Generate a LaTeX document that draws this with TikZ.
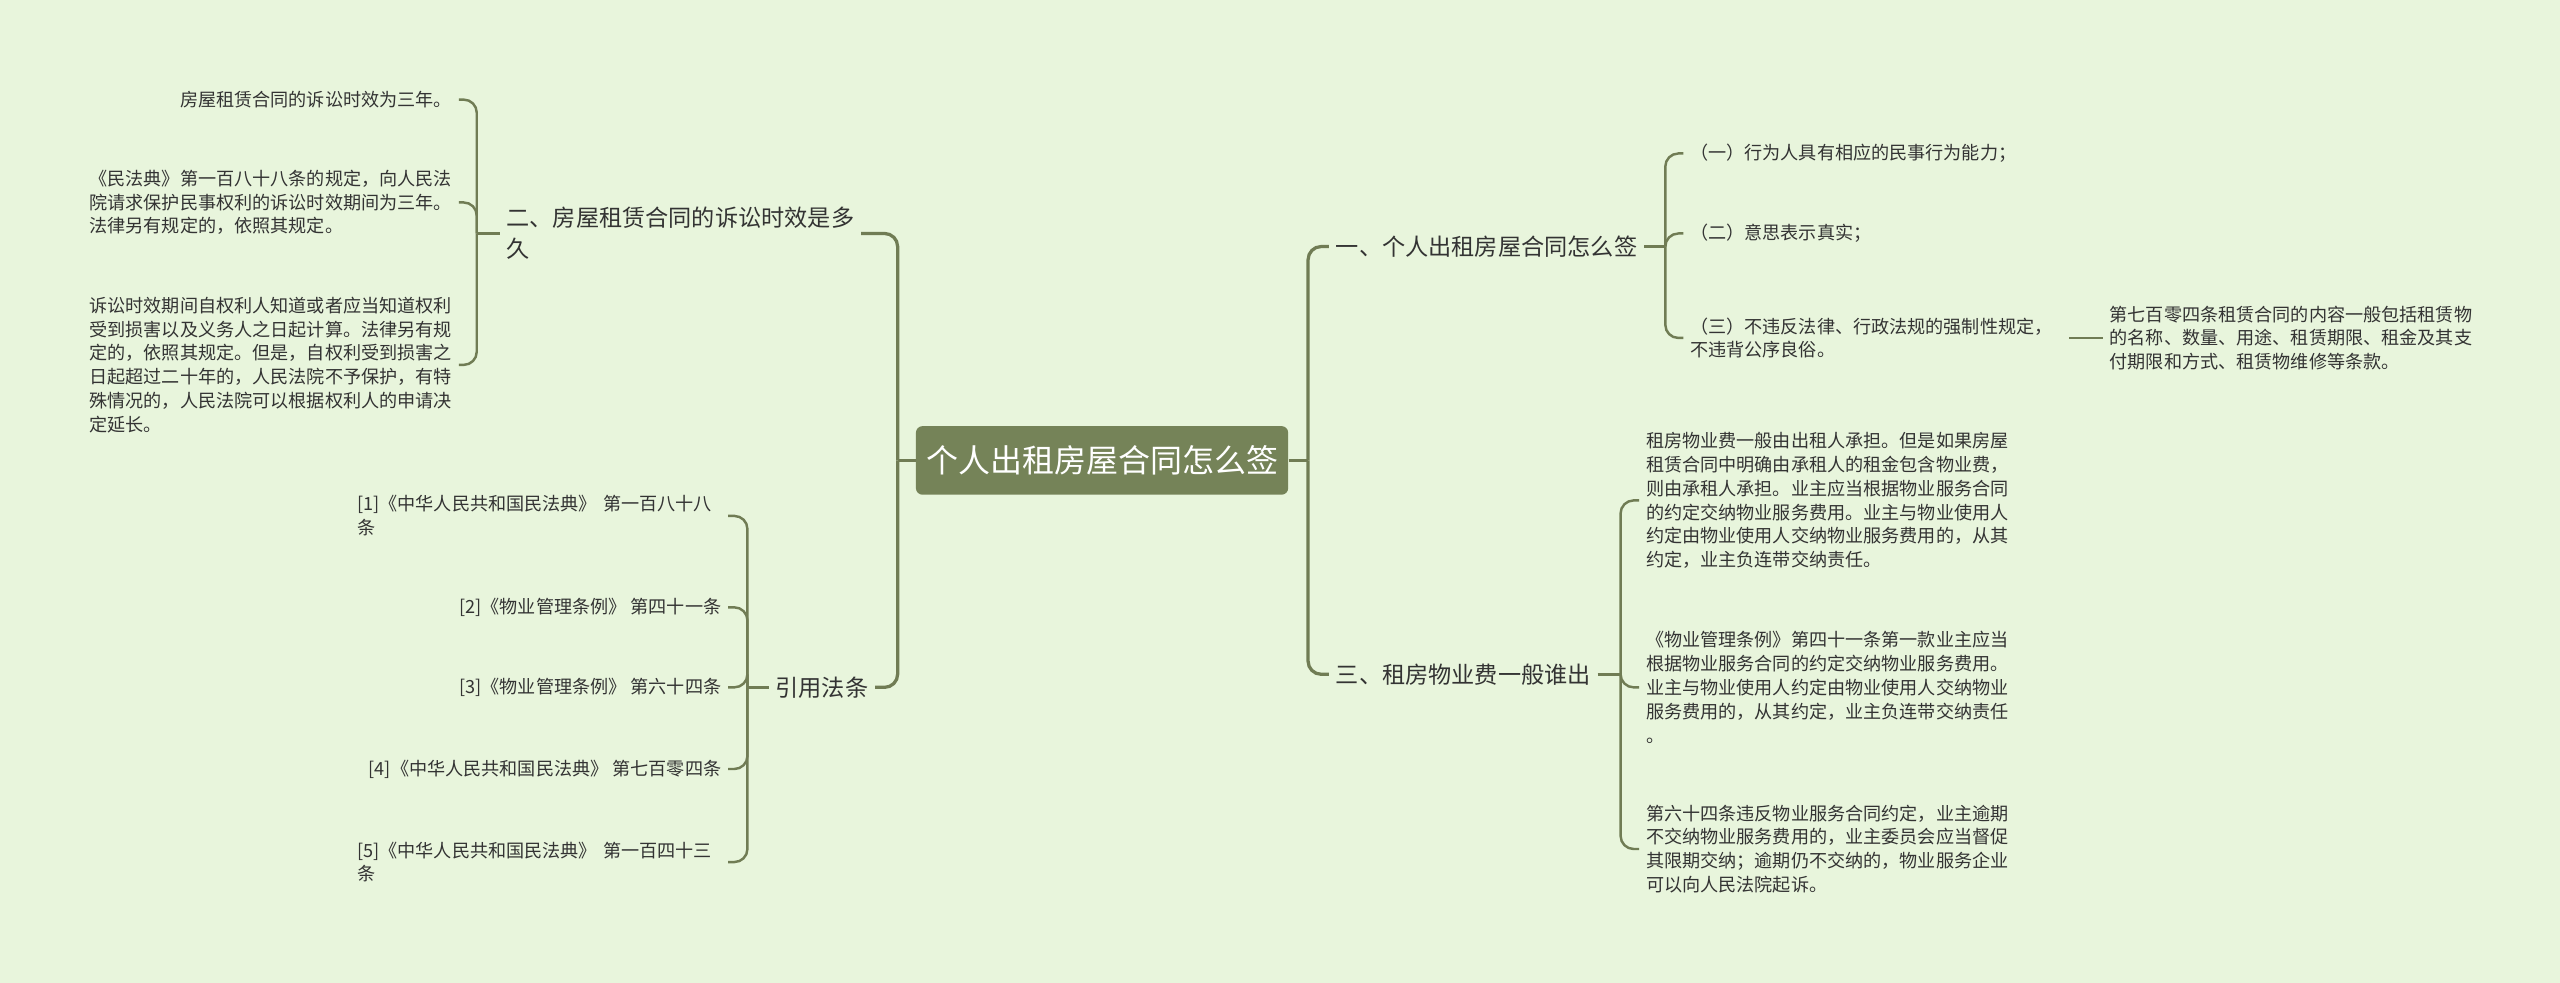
\documentclass[tikz,border=0pt]{standalone}
\usepackage{fontspec}
\setmainfont{Noto Sans CJK SC}
\definecolor{bgcol}{RGB}{232,245,220}
\definecolor{linecol}{RGB}{112,124,84}
\definecolor{rootcol}{RGB}{117,131,88}
\definecolor{txtcol}{RGB}{51,51,51}

\begin{document}
\begin{tikzpicture}[x=1pt, y=-1pt,
    every node/.style={inner xsep=4pt, inner ysep=2pt, text=txtcol, align=left},
    root/.style={fill=rootcol, text=white, rounded corners=4pt, inner xsep=0pt,
        text width=228pt, align=center, minimum height=42pt, font=\fontsize{19.6}{24}\selectfont},
    branch/.style={font=\fontsize{14.2}{19}\selectfont},
    leaf/.style={font=\fontsize{11.1}{14.6}\selectfont},
    link/.style={draw=linecol, line width=1.5pt, rounded corners=8pt},
    mainlink/.style={link, line width=2pt}]
    \useasboundingbox (0,0) rectangle (1568,602);
    \fill[bgcol] (0,0) rectangle (1568,602);
    % Nodes
    \node[root] (root) at (675,282) {个人出租房屋合同怎么签};
    \node[branch, anchor=west] (b1) at (814,151) {一、个人出租房屋合同怎么签};
    \node[branch, anchor=west] (b3) at (814,413) {三、租房物业费一般谁出};
    \node[branch, anchor=west] (b2) at (306,143) {二、房屋租赁合同的诉讼时效是多\\久};
    \node[branch, anchor=east] (b4) at (536,421) {引用法条};
    % right, first branch
    \node[leaf, anchor=west] (l11) at (1031,94)  {（一）行为人具有相应的民事行为能力；};
    \node[leaf, anchor=west] (l12) at (1031,143) {（二）意思表示真实；};
    \node[leaf, anchor=west] (l13) at (1031,207) {（三）不违反法律、行政法规的强制性规定，\\不违背公序良俗。};
    \node[leaf, anchor=west] (l14) at (1288,207) {第七百零四条租赁合同的内容一般包括租赁物\\的名称、数量、用途、租赁期限、租金及其支\\付期限和方式、租赁物维修等条款。};
    % right, third branch
    \node[leaf, anchor=west] (l31) at (1004,306.5) {租房物业费一般由出租人承担。但是如果房屋\\租赁合同中明确由承租人的租金包含物业费，\\则由承租人承担。业主应当根据物业服务合同\\的约定交纳物业服务费用。业主与物业使用人\\约定由物业使用人交纳物业服务费用的，从其\\约定，业主负连带交纳责任。};
    \node[leaf, anchor=west] (l32) at (1004,421) {《物业管理条例》第四十一条第一款业主应当\\根据物业服务合同的约定交纳物业服务费用。\\业主与物业使用人约定由物业使用人交纳物业\\服务费用的，从其约定，业主负连带交纳责任\\。};
    \node[leaf, anchor=west] (l33) at (1004,520) {第六十四条违反物业服务合同约定，业主逾期\\不交纳物业服务费用的，业主委员会应当督促\\其限期交纳；逾期仍不交纳的，物业服务企业\\可以向人民法院起诉。};
    % left, second branch
    \node[leaf, anchor=east] (l21) at (281,61) {房屋租赁合同的诉讼时效为三年。};
    \node[leaf, anchor=east] (l22) at (281,124) {《民法典》第一百八十八条的规定，向人民法\\院请求保护民事权利的诉讼时效期间为三年。\\法律另有规定的，依照其规定。};
    \node[leaf, anchor=east] (l23) at (281,223.5) {诉讼时效期间自权利人知道或者应当知道权利\\受到损害以及义务人之日起计算。法律另有规\\定的，依照其规定。但是，自权利受到损害之\\日起超过二十年的，人民法院不予保护，有特\\殊情况的，人民法院可以根据权利人的申请决\\定延长。};
    % left, cited articles
    \node[leaf, anchor=east, text width=223pt] (l41) at (446,316) {[1]《中华人民共和国民法典》 第一百八十八\\条};
    \node[leaf, anchor=east] (l42) at (446,372) {[2]《物业管理条例》 第四十一条};
    \node[leaf, anchor=east] (l43) at (446,421) {[3]《物业管理条例》 第六十四条};
    \node[leaf, anchor=east] (l44) at (446,471) {[4]《中华人民共和国民法典》 第七百零四条};
    \node[leaf, anchor=east, text width=223pt] (l45) at (446,528) {[5]《中华人民共和国民法典》 第一百四十三\\条};
    % Edges
    \draw[mainlink] (root.east) -- ++(12,0) coordinate (jr);
    \draw[mainlink] (jr) |- (b1.west);
    \draw[mainlink] (jr) |- (b3.west);
    \draw[mainlink] (root.west) -- ++(-11,0) coordinate (jl);
    \draw[mainlink] (jl) |- (b2.east);
    \draw[mainlink] (jl) |- (b4.east);
    \draw[link] (b1.east) -- ++(13,0) coordinate (j1);
    \draw[link] (j1) |- (l11.west);
    \draw[link] (j1) |- (l12.west);
    \draw[link] (j1) |- (l13.west);
    \draw[link, shorten <=6pt] (l13.east) -- (l14.west);
    \draw[link] (b3.east) -- ++(14,0) coordinate (j3);
    \draw[link] (j3) |- (l31.west);
    \draw[link] (j3) |- (l32.west);
    \draw[link] (j3) |- (l33.west);
    \draw[link] (b2.west) -- ++(-14,0) coordinate (j2);
    \draw[link] (j2) |- (l21.east);
    \draw[link] (j2) |- (l22.east);
    \draw[link] (j2) |- (l23.east);
    \draw[link] (b4.west) -- ++(-13,0) coordinate (j4);
    \draw[link] (j4) |- (l41.east);
    \draw[link] (j4) |- (l42.east);
    \draw[link] (j4) |- (l43.east);
    \draw[link] (j4) |- (l44.east);
    \draw[link] (j4) |- (l45.east);
\end{tikzpicture}
\end{document}
